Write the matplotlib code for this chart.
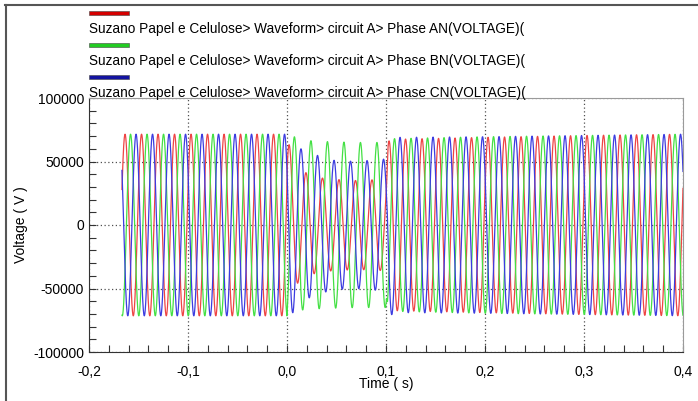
import matplotlib
matplotlib.use('Agg')
import matplotlib.pyplot as plt
import numpy as np
from matplotlib.lines import Line2D
from matplotlib.patches import Rectangle
from matplotlib.ticker import MultipleLocator, FuncFormatter

plt.rcParams['font.family'] = ['Liberation Sans', 'DejaVu Sans']

# record settings
f_hz = 60.0
t_start = -0.1667
t_end = 0.4
t_crest_an = -0.1636   # first crest of phase AN

# crest envelope knots (s, V)
env_t  = [-0.167, 0.0,   0.006, 0.014, 0.030, 0.046, 0.070, 0.100, 0.102, 0.110, 0.200, 0.300, 0.400]
amp_an = [71500,  71500, 50000, 43000, 37500, 36000, 35000, 36000, 66000, 67500, 69000, 70500, 71500]
amp_bn = [71500,  71500, 70000, 67000, 66000, 65500, 65000, 65000, 68000, 68000, 69500, 70500, 71500]
amp_cn = [71500,  71500, 69000, 60000, 55000, 51000, 50000, 52000, 72000, 69000, 69500, 70500, 71500]

# phase advance (deg) during the sag, relative to pre-fault
shift_t  = [-0.167, -0.0005, 0.0005, 0.1005, 0.1015, 0.4]
shift_an = [0, 0, 12, 12, 0, 0]
shift_bn = [0, 0, 24, 24, 0, 0]
shift_cn = [0, 0, 0, 0, 0, 0]

names = ['Suzano Papel e Celulose> Waveform> circuit A> Phase AN(VOLTAGE)(',
         'Suzano Papel e Celulose> Waveform> circuit A> Phase BN(VOLTAGE)(',
         'Suzano Papel e Celulose> Waveform> circuit A> Phase CN(VOLTAGE)(']
line_colors = ['#ee4444', '#44e044', '#3c3ce0']
swatch_colors = ['#d40000', '#22cc22', '#1414a0']

t = np.linspace(t_start, t_end, 12000)
w = 2 * np.pi * f_hz
phases = [(amp_an, shift_an, 0.0), (amp_bn, shift_bn, 120.0), (amp_cn, shift_cn, 240.0)]

fig = plt.figure(figsize=(6.98, 4.01), dpi=100)
ax = fig.add_axes([89/698, 1-352/401, (683-89)/698, (352-98)/401])

for (amp, shift, base), col in zip(phases, line_colors):
    a = np.interp(t, env_t, amp)
    s = np.interp(t, shift_t, shift)
    v = a * np.cos(w * (t - t_crest_an) - np.radians(base) + np.radians(s))
    ax.plot(t, v, color=col, lw=0.9)

ax.set_xlim(-0.2, 0.4)
ax.set_ylim(-100000, 100000)
ax.xaxis.set_major_locator(MultipleLocator(0.1))
ax.xaxis.set_minor_locator(MultipleLocator(0.02))
ax.yaxis.set_major_locator(MultipleLocator(50000))
ax.yaxis.set_minor_locator(MultipleLocator(10000))
ax.xaxis.set_major_formatter(FuncFormatter(lambda v, p: f'{round(v, 1):.1f}'.replace('.', ',').replace('-0,0', '0,0')))
ax.yaxis.set_major_formatter(FuncFormatter(lambda v, p: f'{int(round(v))}'))
ax.tick_params(which='both', direction='in', length=5, width=0.8, color='#333333', labelsize=10)
ax.tick_params(axis='x', which='major', pad=9)
ax.grid(which='major', color='#505050', linestyle=(0, (1, 2)), linewidth=0.9)
for side in ['top', 'right']:
    ax.spines[side].set_color('#9a9a9a')
for side in ['left', 'bottom']:
    ax.spines[side].set_color('#333333')

ax.set_xlabel('Time ( s)', fontsize=10, labelpad=-1)
ax.set_ylabel('Voltage ( V )', fontsize=10, labelpad=4)

# legend: swatch above each text line
for i, (nm, sc) in enumerate(zip(names, swatch_colors)):
    y_sw = 1 - (13 + 32 * i) / 401
    fig.patches.append(Rectangle((89/698, y_sw - 2/401), 40/698, 4/401, transform=fig.transFigure,
                                 facecolor=sc, edgecolor='#444444', lw=0.4))
    fig.text(89/698, 1 - (29 + 32 * i) / 401, nm, fontsize=9.85, va='center', ha='left')

# panel border (top and left)
fig.add_artist(Line2D([5/698, 1], [1 - 5/401, 1 - 5/401], transform=fig.transFigure, color='#555555', lw=1.5))
fig.add_artist(Line2D([6/698, 6/698], [0, 1 - 5/401], transform=fig.transFigure, color='#555555', lw=1.5))

fig.savefig('out.png', dpi=100)
